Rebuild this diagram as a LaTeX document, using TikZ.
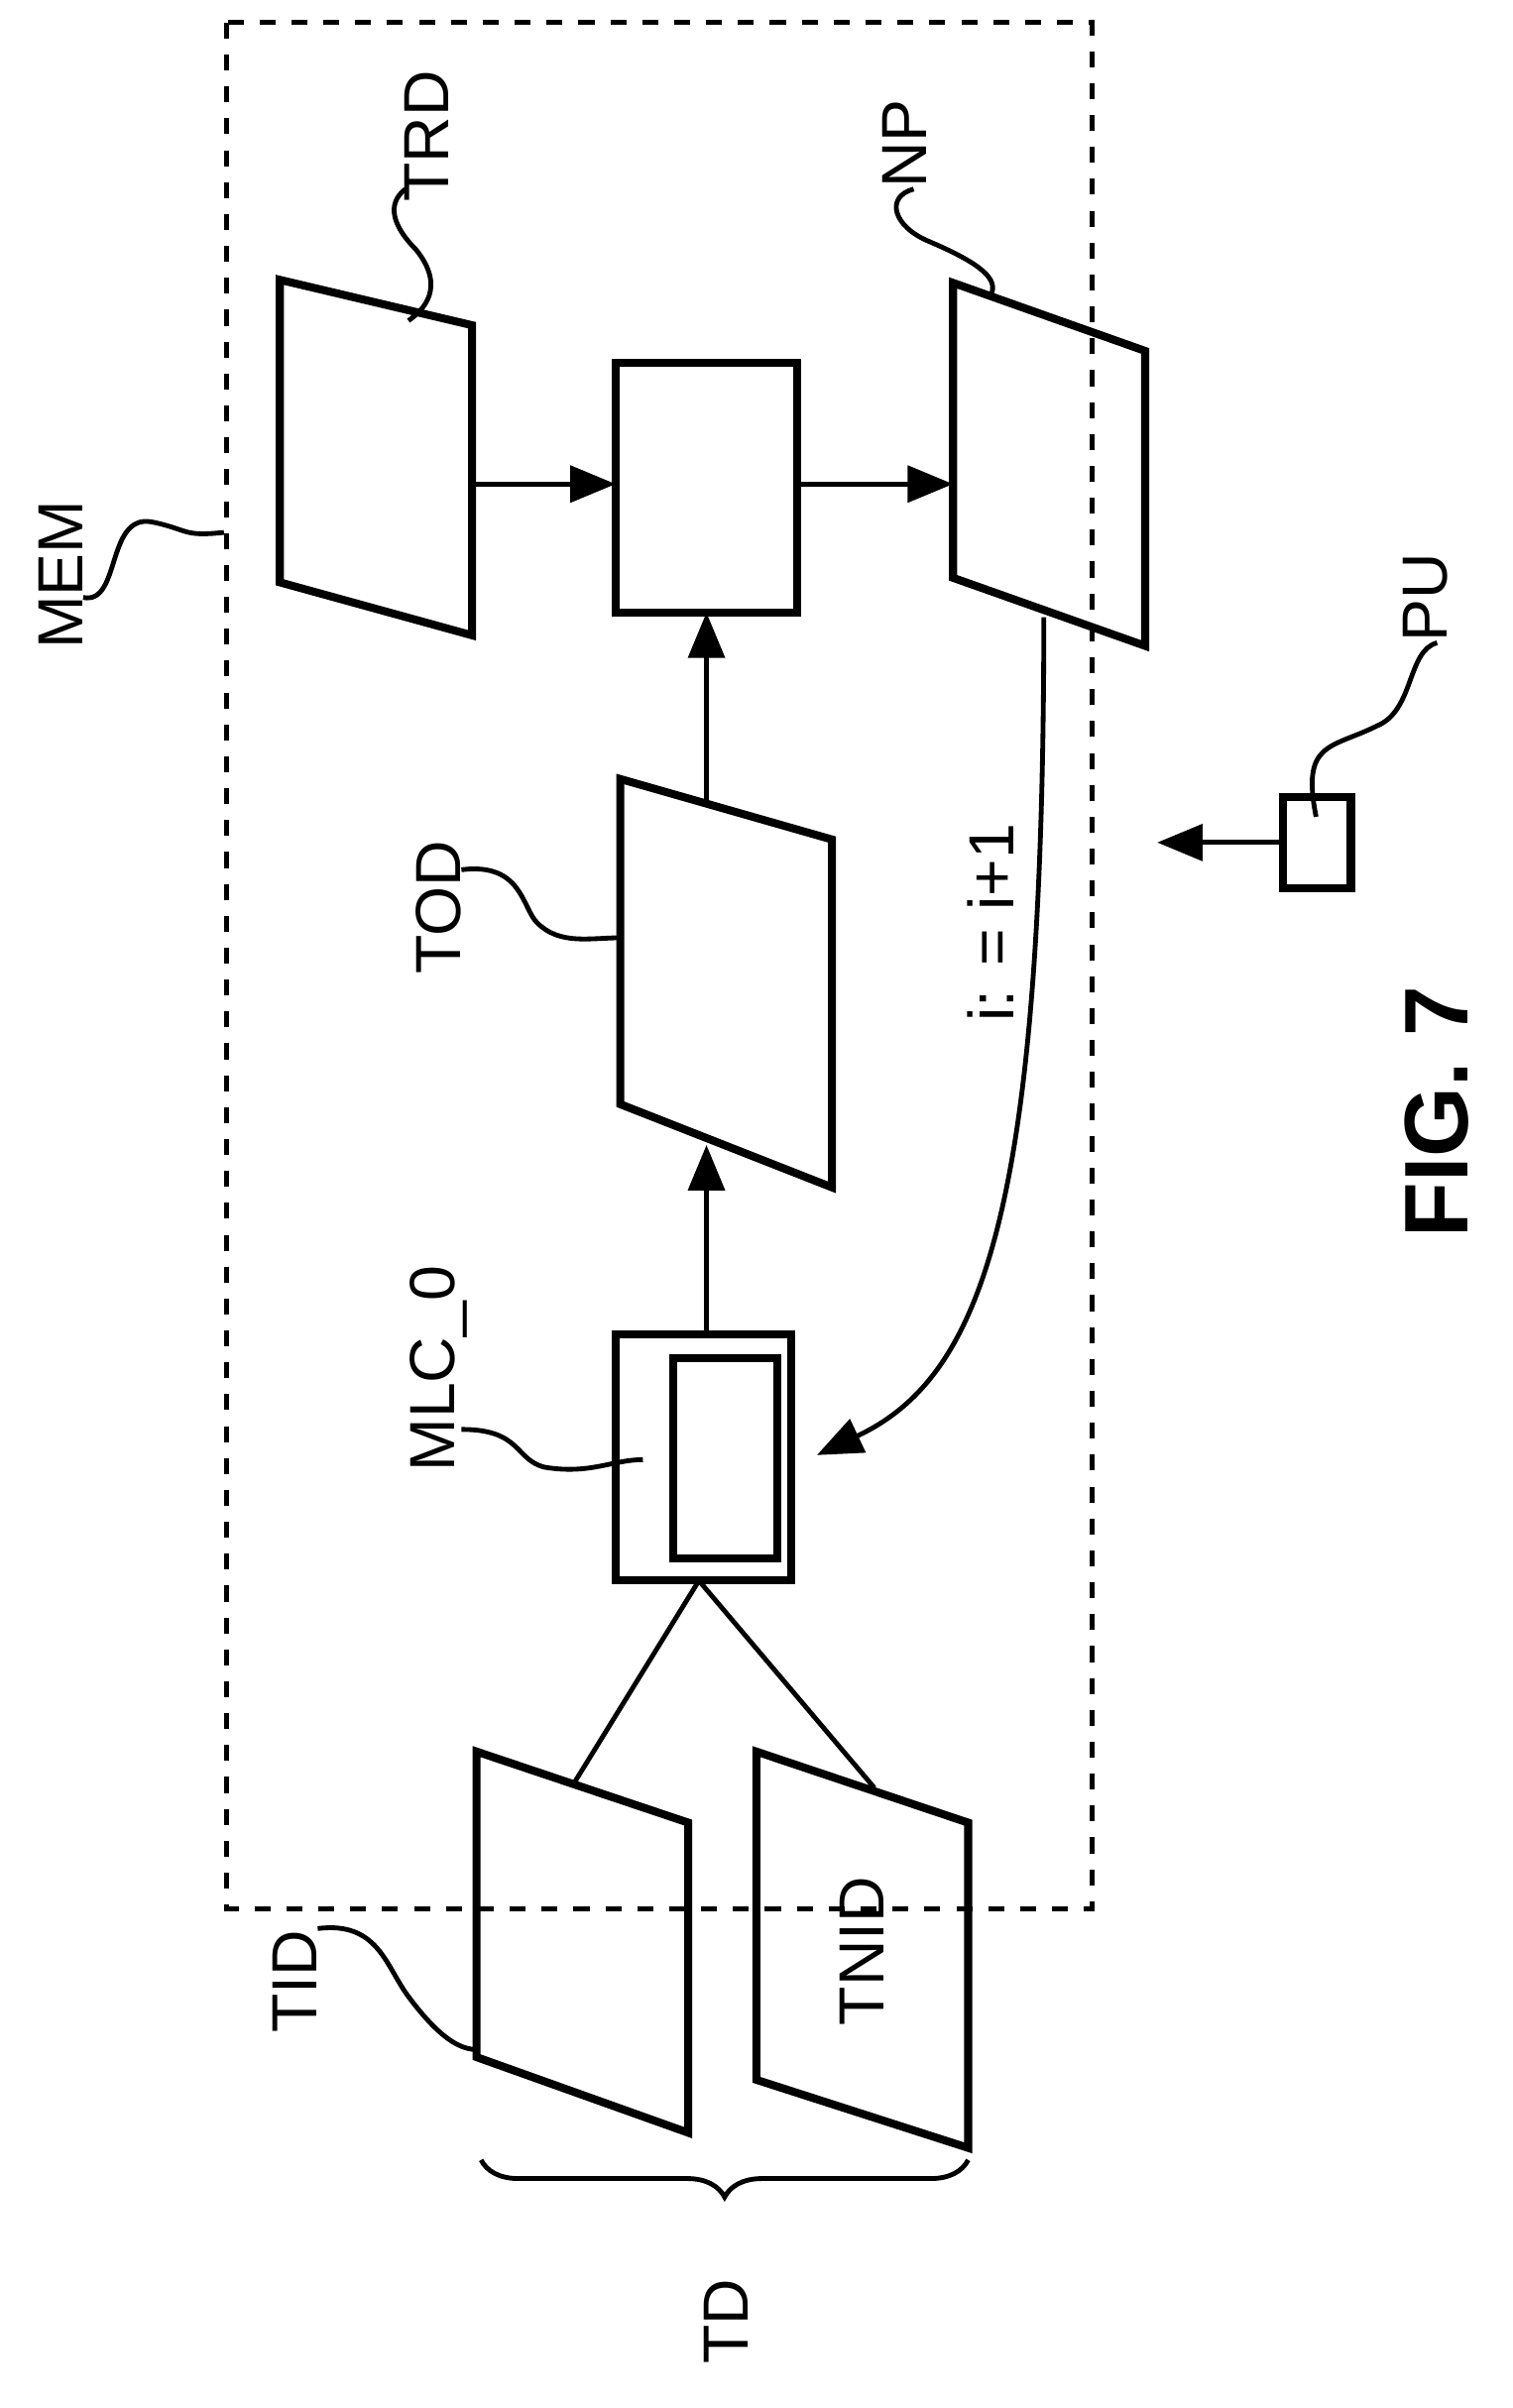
\documentclass[tikz,border=0pt]{standalone}
\usepackage{fontspec}
\setmainfont{Liberation Sans}
\usetikzlibrary{decorations.pathreplacing,arrows.meta}
\tikzset{
  blk/.style={draw=black, line width=1.5pt},
  flow/.style={-{Triangle[length=3mm,width=2.4mm]}, line width=0.9pt},
  lead/.style={line width=0.9pt},
  lbl/.style={rotate=90, font=\fontsize{12}{14}\selectfont}
}
\begin{document}
\begin{tikzpicture}[x=0.1mm,y=-0.1mm]
        \useasboundingbox (0,0) rectangle (1000,1592);
        % memory
        \draw[dashed, line width=0.9pt] (150,15) rectangle (722,1262);

        % data blocks
        \draw[blk] (185,185) coordinate (trd) -- (312,215) -- (312,420) -- (185,385) -- cycle;
        \draw[blk] (407,240) rectangle (527,405);
        \draw[blk] (630,187) coordinate (np) -- (757,232) -- (757,427) -- (630,382) -- cycle;
        \draw[blk] (410,515) -- (550,555) -- (550,785) -- (410,730) -- cycle;
        \draw[blk] (407,882) rectangle (523,1045);
        \draw[blk] (445,898) rectangle (514,1030);
        \draw[blk] (315,1158) -- (455,1205) -- (455,1410) -- (315,1360) -- cycle;
        \draw[blk] (500,1158) -- (640,1205) -- (640,1420) -- (500,1375) -- cycle;
        \node[lbl] (tnid) at (570,1290) {TNID};

        % connections
        \coordinate (a1) at (312,320);
        \coordinate (a2) at (407,320);
        \coordinate (b1) at (527,320);
        \coordinate (b2) at (630,320);
        \draw[flow] (a1) -- (a2);
        \draw[flow] (b1) -- (b2);
        \draw[flow] (467,530) -- (467,405);
        \draw[flow] (467,882) -- (467,757);
        \draw[flow] (690,408) .. controls (690,800) and (650,910) .. (540,962);
        \node[lbl] (inc) at (655,610) {i: = i+1};
        \draw[line width=0.9pt] (462,1045) -- (380,1178);
        \draw[line width=0.9pt] (462,1045) -- (578,1182);

        % processing unit
        \draw[blk] (848,527) rectangle (893,587);
        \draw[flow] (848,557) -- (765,557);

        % reference labels
        \node[lbl] (mem) at (40,380) {MEM};
        \draw[lead] (55,395) .. controls (80,400) and (70,340) .. (100,345) .. controls (125,350) and (120,355) .. (148,352);
        \node[lbl] (trdl) at (282,90) {TRD};
        \draw[lead] (268,125) .. controls (255,135) and (260,150) .. (275,165) .. controls (295,190) and (280,205) .. (270,212);
        \node[lbl] (npl) at (598,95) {NP};
        \draw[lead] (604,125) .. controls (585,130) and (590,150) .. (615,160) .. controls (650,175) and (660,185) .. (655,195);
        \node[lbl] (tpu) at (942,395) {PU};
        \draw[lead] (950,425) .. controls (930,430) and (935,470) .. (910,480) .. controls (880,495) and (860,490) .. (870,540);
        \node[lbl] (tod) at (290,600) {TOD};
        \draw[lead] (305,575) .. controls (345,570) and (345,600) .. (355,610) .. controls (370,625) and (390,620) .. (410,620);
        \node[lbl] (mlc) at (290,905) {MLC\_0};
        \draw[lead] (305,945) .. controls (345,945) and (340,965) .. (360,970) .. controls (390,975) and (405,965) .. (425,965);
        \node[lbl] (tid) at (195,1310) {TID};
        \draw[lead] (210,1275) .. controls (250,1270) and (255,1300) .. (270,1320) .. controls (285,1340) and (300,1355) .. (315,1355);

        % brace
        \draw[decorate, decoration={brace, mirror, amplitude=7pt}, line width=0.9pt] (318,1428) -- (640,1428);
        \node[lbl] (td) at (480,1535) {TD};

        \node[rotate=90, font=\fontsize{17}{20}\selectfont\bfseries] (fig) at (950,735) {FIG. 7};
\end{tikzpicture}
\end{document}
